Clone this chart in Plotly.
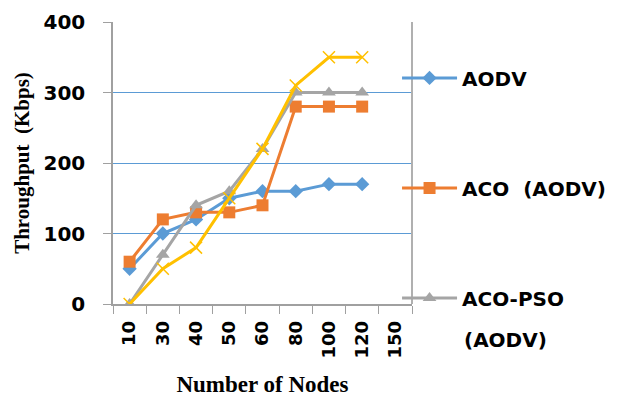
import plotly.graph_objects as go

nodes = ["10", "30", "40", "50", "60", "80", "100", "120", "150"]
aodv = [50, 100, 120, 150, 160, 160, 170, 170]
aco = [60, 120, 130, 130, 140, 280, 280, 280]
aco_pso = [0, 70, 140, 160, 220, 300, 300, 300]
extra = [0, 50, 80, 150, 220, 310, 350, 350]
y_ticks = [0, 100, 200, 300, 400]

sans = "DejaVu Sans"
serif = "Liberation Serif"
fig = go.Figure()
fig.add_trace(go.Scatter(x=nodes[:8], y=aodv, name="AODV", mode="lines+markers",
                         line=dict(color="#5B9BD5", width=3),
                         marker=dict(symbol="diamond", size=11, color="#5B9BD5"),
                         legendgroup="a"))
fig.add_trace(go.Scatter(x=nodes[:8], y=aco, name="ACO  (AODV)", mode="lines+markers",
                         line=dict(color="#ED7D31", width=3),
                         marker=dict(symbol="square", size=12, color="#ED7D31"),
                         legendgroup="b"))
fig.add_trace(go.Scatter(x=nodes[:8], y=aco_pso, name="ACO-PSO", mode="lines+markers",
                         line=dict(color="#A5A5A5", width=3),
                         marker=dict(symbol="triangle-up", size=12, color="#A5A5A5"),
                         legendgroup="c"))
fig.add_trace(go.Scatter(x=nodes[:8], y=extra, name="", mode="lines+markers",
                         line=dict(color="#FFC000", width=3),
                         marker=dict(symbol="x-thin", size=12, line=dict(color="#FFC000", width=1.5)),
                         showlegend=False))

fig.update_layout(
    width=622, height=397,
    margin=dict(l=113, r=210, t=22, b=93, autoexpand=False),
    paper_bgcolor="white", plot_bgcolor="white",
    showlegend=True,
    legend=dict(x=0.95, xanchor="left", y=0.871, yanchor="top",
                font=dict(family=sans, size=20, color="black", weight="bold"),
                tracegroupgap=81, valign="middle", itemwidth=55,
                bgcolor="rgba(0,0,0,0)"),
    xaxis=dict(type="category", categoryorder="array", categoryarray=nodes,
               range=[-0.5, 8.5], tickmode="array", tickvals=nodes, ticktext=nodes,
               tickson="boundaries", ticks="outside", ticklen=8, tickcolor="#A0A0A0",
               tickangle=-90, showgrid=False, ticklabelstandoff=8, automargin=False,
               showline=True, linecolor="#A0A0A0", linewidth=1.5, mirror=False,
               tickfont=dict(family=sans, size=18, color="black", weight="bold"),
               title=dict(text="Number of Nodes", standoff=18,
                          font=dict(family=serif, size=23, color="black", weight="bold"))),
    yaxis=dict(range=[0, 400], tickvals=y_ticks, showgrid=True, gridcolor="#5B9BD5", gridwidth=1,
               zeroline=False, showline=True, linecolor="#A0A0A0", linewidth=1.5,
               ticks="outside", ticklen=8, tickcolor="#A0A0A0", ticklabelstandoff=14,
               automargin=False,
               tickfont=dict(family=sans, size=20, color="black", weight="bold"),
               title=dict(text="Throughput  (Kbps)", standoff=8,
                          font=dict(family=serif, size=21, color="black", weight="bold"))),
)
fig.add_annotation(text="(AODV)", xref="paper", yref="paper", x=(462 - 113) / 299, y=(304 - 340) / 282,
                   xanchor="left", yanchor="middle", showarrow=False,
                   font=dict(family=sans, size=20, color="black", weight="bold"))
# plot-area right border
fig.add_shape(type="line", xref="paper", yref="paper", x0=1, x1=1, y0=0, y1=1,
              line=dict(color="#B0B0B0", width=2))
fig.write_html("out.html")
